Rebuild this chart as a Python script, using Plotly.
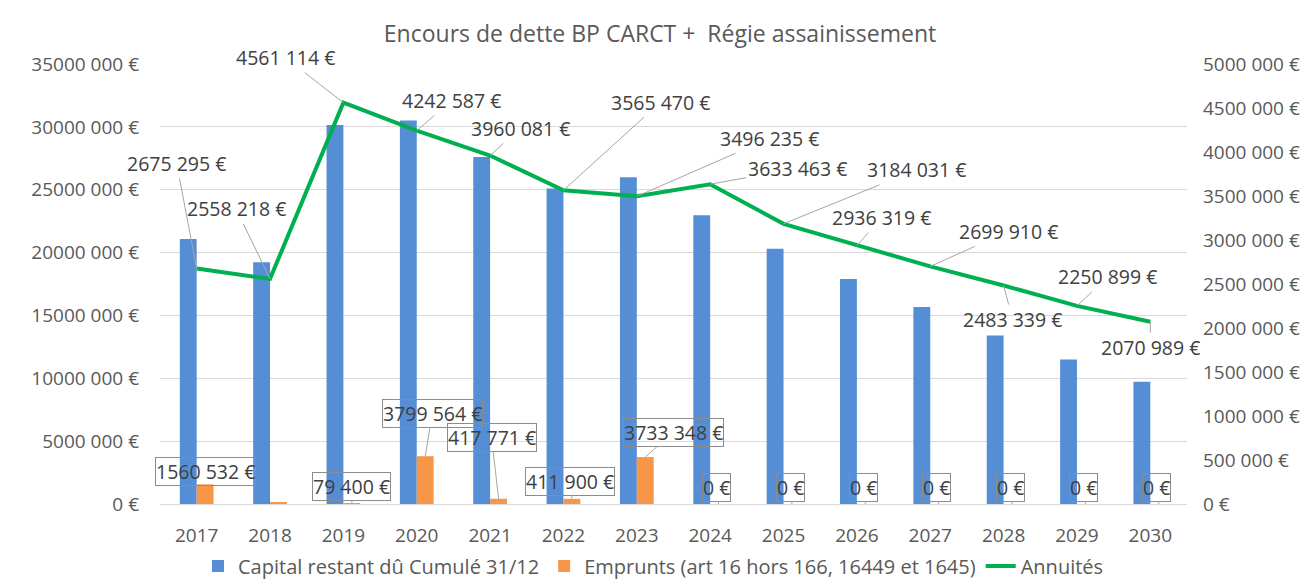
import plotly.graph_objects as go

# ---------------- data ----------------
years = ["2017", "2018", "2019", "2020", "2021", "2022", "2023",
         "2024", "2025", "2026", "2027", "2028", "2029", "2030"]

capital_restant = [21080000, 19230000, 30150000, 30500000, 27600000, 25100000, 26000000,
                   22970000, 20300000, 17900000, 15670000, 13400000, 11500000, 9730000]

emprunts = [1560532, 100000, 79400, 3799564, 417771, 411900, 3733348,
            0, 0, 0, 0, 0, 0, 0]
emprunts_labels = ["1560 532 €", "", "79 400 €", "3799 564 €", "417 771 €", "411 900 €",
                   "3733 348 €", "0 €", "0 €", "0 €", "0 €", "0 €", "0 €", "0 €"]

annuites = [2675295, 2558218, 4561114, 4242587, 3960081, 3565470, 3496235,
            3633463, 3184031, 2936319, 2699910, 2483339, 2250899, 2070989]
annuites_labels = ["2675 295 €", "2558 218 €", "4561 114 €", "4242 587 €", "3960 081 €",
                   "3565 470 €", "3496 235 €", "3633 463 €", "3184 031 €", "2936 319 €",
                   "2699 910 €", "2483 339 €", "2250 899 €", "2070 989 €"]

left_tickvals = [0, 5000000, 10000000, 15000000, 20000000, 25000000, 30000000, 35000000]
left_ticktext = ["0 €", "5000 000 €", "10000 000 €", "15000 000 €", "20000 000 €",
                 "25000 000 €", "30000 000 €", "35000 000 €"]
right_tickvals = [0, 500000, 1000000, 1500000, 2000000, 2500000, 3000000,
                  3500000, 4000000, 4500000, 5000000]
right_ticktext = ["0 €", "500 000 €", "1000 000 €", "1500 000 €", "2000 000 €", "2500 000 €",
                  "3000 000 €", "3500 000 €", "4000 000 €", "4500 000 €", "5000 000 €"]

title_text = "Encours de dette BP CARCT +  Régie assainissement"
name_capital = "Capital restant dû Cumulé 31/12"
name_emprunts = "Emprunts (art 16 hors 166, 16449 et 1645)"
name_annuites = "Annuités"

# ---------------- label placement (pixel offsets, style only) ----------------
line_label_offsets = [(-20, -105), (-34, -70), (-58, -45), (35, -30), (30, -27),
                      (97, -88), (133, -58), (87, -16), (133, -54), (25, -28),
                      (78, -35), (9, 34), (31, -29), (0, 26)]
bar_label_offsets = [(0, -13), (0, -17), (0, -17), (7, -43), (-7, -61), (-2, -17), (28, -25),
                     (-2, -17), (-2, -17), (-2, -17), (-2, -17), (-2, -17), (-2, -17), (-2, -17)]

FONT = "Open Sans"
TXT = "#404040"
AX = "#595959"
BLUE = "#558ED5"
ORANGE = "#F79646"
GREEN = "#00B050"
GRID = "#D9D9D9"

fig = go.Figure()
fig.add_trace(go.Bar(x=years, y=capital_restant, name=name_capital,
                     marker=dict(color=BLUE, line=dict(width=0)), yaxis="y"))
fig.add_trace(go.Bar(x=years, y=emprunts, name=name_emprunts,
                     marker=dict(color=ORANGE, line=dict(width=0)), yaxis="y"))
fig.add_trace(go.Scatter(x=years, y=annuites, name=name_annuites, mode="lines",
                         line=dict(color=GREEN, width=4), yaxis="y2"))

annotations = []
for i, (v, lab, (dx, dy)) in enumerate(zip(annuites, annuites_labels, line_label_offsets)):
    annotations.append(dict(x=i, y=v, xref="x", yref="y2", text=lab, showarrow=True,
                            ax=dx, ay=dy, arrowhead=0, arrowwidth=1, arrowcolor="#A6A6A6",
                            standoff=0, startstandoff=0,
                            font=dict(family=FONT, size=19.5, color=TXT)))
for i, (v, lab, (dx, dy)) in enumerate(zip(emprunts, emprunts_labels, bar_label_offsets)):
    if not lab:
        continue
    annotations.append(dict(x=i, y=v, xref="x", yref="y", text=lab, showarrow=True,
                            ax=dx, ay=dy, xshift=8.5, arrowhead=0, arrowwidth=1,
                            arrowcolor="#A6A6A6", standoff=0,
                            bordercolor="#8C8C8C", borderwidth=1, borderpad=0,
                            font=dict(family=FONT, size=19.5, color=TXT)))

fig.update_layout(
    width=1307, height=582,
    paper_bgcolor="white", plot_bgcolor="white",
    margin=dict(l=160, r=120, t=64, b=78, autoexpand=False),
    barmode="group", bargap=0.54, bargroupgap=0,
    font=dict(family=FONT, size=19, color=AX),
    title=dict(text=title_text, x=0.505, xref="container", xanchor="center",
               y=1 - 34 / 582, yref="container", yanchor="middle",
               font=dict(family=FONT, size=23, color=AX)),
    xaxis=dict(type="category", range=[-0.5, len(years) - 0.5], autorange=False,
               showgrid=False, showline=True, linecolor=GRID, linewidth=1,
               ticks="", tickfont=dict(family=FONT, size=19, color=AX),
               ticklabelstandoff=14, automargin=False),
    yaxis=dict(range=[0, 35000000], tickvals=left_tickvals, ticktext=left_ticktext,
               showgrid=True, gridcolor=GRID, gridwidth=1, zeroline=False, showline=False,
               ticks="", ticklabelstandoff=20, automargin=False,
               tickfont=dict(family=FONT, size=19, color=AX)),
    yaxis2=dict(range=[0, 5000000], tickvals=right_tickvals, ticktext=right_ticktext,
                overlaying="y", side="right", showgrid=False, zeroline=False, showline=False,
                ticks="", ticklabelstandoff=15, automargin=False,
                tickfont=dict(family=FONT, size=19, color=AX)),
    legend=dict(orientation="h", x=0.5, xref="container", xanchor="center",
                y=1 - 566 / 582, yref="container", yanchor="middle",
                font=dict(family=FONT, size=20, color=AX),
                itemwidth=30, tracegroupgap=0, traceorder="normal"),
    annotations=annotations,
    showlegend=True,
)

fig.write_html("out.html", config={"displayModeBar": False},
               post_script="document.body.style.margin='0px';document.body.style.overflow='hidden';")
